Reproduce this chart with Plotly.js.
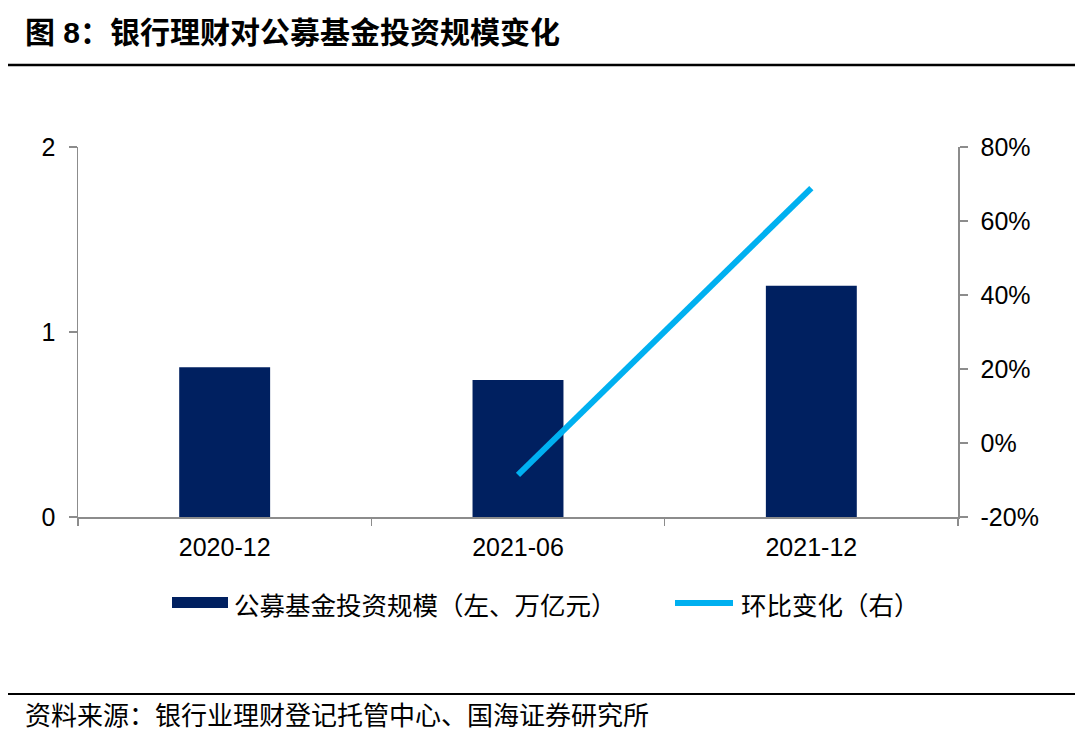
<!DOCTYPE html>
<html>
<head>
<meta charset="utf-8">
<script src="https://cdn.plot.ly/plotly-3.0.1.min.js"></script>
<style>html,body{margin:0;padding:0;background:#fff;}#chart{width:1080px;height:733px;}</style>
</head>
<body>
<div id="chart"></div>
<script>
// ---- data ----
var categories = ['2020-12', '2021-06', '2021-12'];
var fundScale = [0.81, 0.74, 1.25];          // 公募基金投资规模（左、万亿元）
var qoqChange = [null, -0.086, 0.689];       // 环比变化（右）
var leftTicks = [0, 1, 2];
var rightTicks = [-0.2, 0, 0.2, 0.4, 0.6, 0.8];
var rightTickText = ['-20%', '0%', '20%', '40%', '60%', '80%'];
var seriesNames = ['公募基金投资规模（左、万亿元）', '环比变化（右）'];
var titleText = '图 8：银行理财对公募基金投资规模变化';
var sourceText = '资料来源：银行业理财登记托管中心、国海证券研究所';

// ---- layout helpers (pixel -> paper) ----
var W = 1080, H = 733, L = 78, R = 122, T = 147, B = 216;
var PW = W - L - R, PH = H - T - B;
function px(x) { return (x - L) / PW; }
function py(y) { return (H - B - y) / PH; }

var navy = '#002060', sky = '#00B0F0', axisGray = '#8c8c8c';
var latin = 'Liberation Sans, Arial, Noto Sans CJK SC, sans-serif';
var cjk = 'Noto Sans CJK SC, sans-serif';

var traces = [
  {
    type: 'bar', x: categories, y: fundScale, name: seriesNames[0],
    marker: { color: navy }, width: 0.31, yaxis: 'y', showlegend: false
  },
  {
    type: 'scatter', mode: 'lines', x: categories, y: qoqChange, name: seriesNames[1],
    line: { color: sky, width: 6 }, yaxis: 'y2', showlegend: false, connectgaps: false
  }
];

var tickFont = { family: latin, size: 25, color: '#000' };

var layout = {
  width: W, height: H,
  margin: { l: L, r: R, t: T, b: B, pad: 0 },
  paper_bgcolor: '#fff', plot_bgcolor: '#fff',
  showlegend: false,
  title: {
    text: '<b>' + titleText + '</b>',
    font: { family: latin, size: 30, color: '#000' },
    xref: 'container', x: 25 / W, xanchor: 'left',
    yref: 'container', y: 1 - 32 / H, yanchor: 'middle'
  },
  xaxis: {
    type: 'category', range: [-0.5, 2.5],
    showline: true, linecolor: axisGray, linewidth: 1.5,
    ticks: 'outside', tickson: 'boundaries', ticklen: 7, tickwidth: 1.5, tickcolor: axisGray,
    showgrid: false, zeroline: false,
    tickfont: tickFont,
    ticklabelstandoff: 7
  },
  yaxis: {
    range: [0, 2], tickvals: leftTicks, ticktext: leftTicks.map(String),
    showline: true, linecolor: axisGray, linewidth: 1.5,
    ticks: 'outside', ticklen: 8, tickwidth: 1.5, tickcolor: axisGray,
    showgrid: false, zeroline: false,
    tickfont: tickFont,
    ticklabelstandoff: 8
  },
  yaxis2: {
    range: [-0.2, 0.8], tickvals: rightTicks, ticktext: rightTickText,
    overlaying: 'y', side: 'right',
    showline: true, linecolor: axisGray, linewidth: 1.5,
    ticks: 'outside', ticklen: 8, tickwidth: 1.5, tickcolor: axisGray,
    showgrid: false, zeroline: false,
    tickfont: tickFont,
    ticklabelstandoff: 8
  },
  shapes: [
    { type: 'line', xref: 'paper', yref: 'paper', x0: px(8), x1: px(1075), y0: py(65), y1: py(65),
      line: { color: '#000', width: 2.5 } },
    { type: 'line', xref: 'paper', yref: 'paper', x0: px(8), x1: px(1075), y0: py(694), y1: py(694),
      line: { color: '#000', width: 2 } },
    { type: 'rect', xref: 'paper', yref: 'paper', x0: px(172), x1: px(228), y0: py(608), y1: py(597),
      fillcolor: navy, line: { width: 0 } },
    { type: 'line', xref: 'paper', yref: 'paper', x0: px(675), x1: px(733), y0: py(603), y1: py(603),
      line: { color: sky, width: 6 } }
  ],
  annotations: [
    { xref: 'paper', yref: 'paper', x: px(232), y: py(603), xanchor: 'left', yanchor: 'middle',
      text: seriesNames[0], showarrow: false, font: { family: cjk, size: 25.5, color: '#000' } },
    { xref: 'paper', yref: 'paper', x: px(739), y: py(603), xanchor: 'left', yanchor: 'middle',
      text: seriesNames[1], showarrow: false, font: { family: cjk, size: 25.5, color: '#000' } },
    { xref: 'paper', yref: 'paper', x: px(23), y: py(713), xanchor: 'left', yanchor: 'middle',
      text: sourceText, showarrow: false, font: { family: cjk, size: 26, color: '#000' } }
  ]
};

Plotly.newPlot('chart', traces, layout, { displayModeBar: false, staticPlot: true });
</script>
</body>
</html>
